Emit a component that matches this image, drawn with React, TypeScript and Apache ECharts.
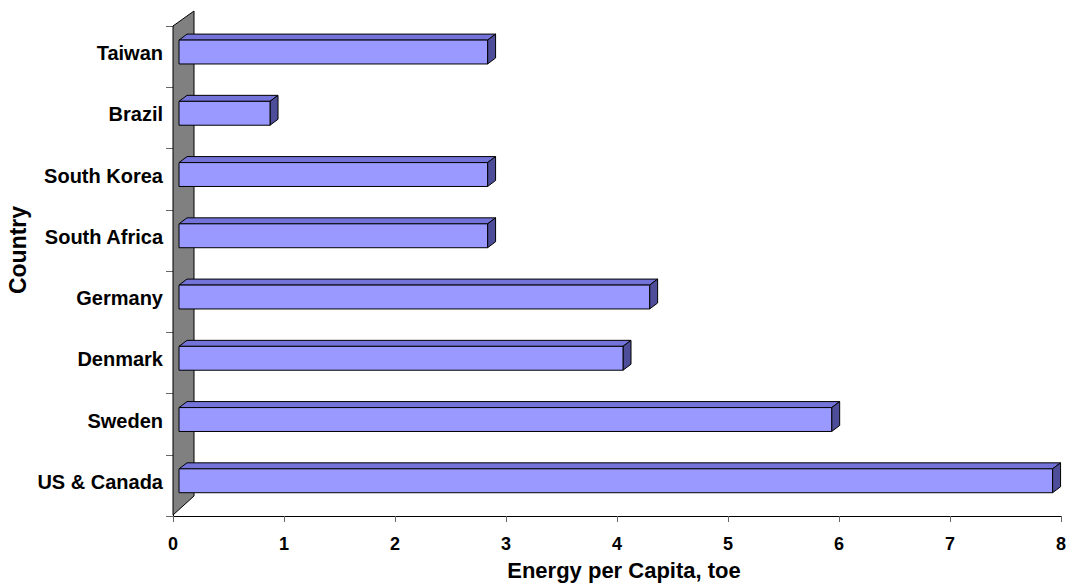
import React, { useEffect, useRef } from "react";
import * as echarts from "echarts";

// Countries, listed from the bottom of the chart to the top
const categories = [
  "US & Canada",
  "Sweden",
  "Denmark",
  "Germany",
  "South Africa",
  "South Korea",
  "Brazil",
  "Taiwan",
];

// Energy use per capita, tonnes of oil equivalent
const energyPerCapita = [7.87, 5.88, 4.0, 4.24, 2.78, 2.78, 0.82, 2.78];

const xTickMin = 0;
const xTickMax = 8;
const xTickStep = 1;

const FONT = "'Liberation Sans', Arial, Helvetica, sans-serif";

const FRONT = "#9999FF";
const TOP = "#7373D9";
const SIDE = "#4D4D9A";
const WALL = "#808080";

export default function App() {
  const ref = useRef<HTMLDivElement>(null);

  useEffect(() => {
    if (!ref.current) return;
    const chart = echarts.init(ref.current, undefined, { renderer: "svg" });

    const barData = energyPerCapita.map((v, i) => [v, i]);

    // oblique depth of each bar and of the back wall
    const depthX = 8;
    const depthY = -6;

    const option: any = {
      animation: false,
      backgroundColor: "#ffffff",
      grid: {
        left: 173,
        right: 7,
        top: 26,
        bottom: 68,
        containLabel: false,
        outerBoundsMode: "none",
      },
      xAxis: {
        type: "value",
        min: xTickMin,
        max: xTickMax,
        interval: xTickStep,
        name: "Energy per Capita, toe",
        nameLocation: "middle",
        nameGap: 43,
        nameTextStyle: {
          fontFamily: FONT,
          fontWeight: "bold",
          fontSize: 22,
          color: "#000",
          padding: [0, 0, 0, 14],
        },
        axisLine: { show: true, lineStyle: { color: "#000", width: 1 } },
        axisTick: { show: true, length: 6, lineStyle: { color: "#666", width: 1 } },
        axisLabel: {
          margin: 19,
          fontFamily: FONT,
          fontWeight: "bold",
          fontSize: 18,
          color: "#000",
        },
        splitLine: { show: false },
      },
      yAxis: {
        type: "category",
        data: categories,
        axisLine: { show: true, lineStyle: { color: "#000", width: 1 } },
        axisTick: { show: true, length: 7, lineStyle: { color: "#666", width: 1 } },
        axisLabel: {
          margin: 10,
          fontFamily: FONT,
          fontWeight: "bold",
          fontSize: 20,
          color: "#000",
          // lift the labels slightly so they sit level with the bar fronts
          verticalAlign: "bottom",
          lineHeight: 7,
        },
        splitLine: { show: false },
      },
      graphic: [
        {
          type: "text",
          x: 18,
          y: 250,
          rotation: Math.PI / 2,
          style: {
            text: "Country",
            fontFamily: FONT,
            fontWeight: "bold",
            fontSize: 23,
            fill: "#000",
            align: "center",
            verticalAlign: "middle",
          },
        },
      ],
      series: [
        {
          // gray back wall standing behind the category axis
          type: "custom",
          data: [[0, 0]],
          encode: { x: 0, y: 1 },
          z: 1,
          silent: true,
          renderItem: (params: any) => {
            const cs = params.coordSys;
            const x0 = cs.x;
            const x1 = cs.x + 21;
            const top = cs.y;
            const bottom = cs.y + cs.height - 1;
            return {
              type: "polygon",
              shape: {
                points: [
                  [x0, bottom],
                  [x0, top],
                  [x1, top - 15],
                  [x1, bottom - 19],
                ],
              },
              style: { fill: WALL, stroke: "#000", lineWidth: 1 },
            };
          },
        },
        {
          // 3D bars: front face, top face and right side face
          type: "custom",
          data: barData,
          encode: { x: 0, y: 1 },
          z: 2,
          renderItem: (params: any, api: any) => {
            const v = api.value(0);
            const c = api.value(1);
            const origin = api.coord([0, c]);
            const end = api.coord([v, c]);
            const band = api.size([0, 1])[1];
            const h = band * 0.39;
            const cy = origin[1] - band * 0.075;
            const shift = 6;
            const xl = origin[0] + shift;
            const xr = end[0] + shift;
            const yt = cy - h / 2;
            const yb = cy + h / 2;
            const line = { stroke: "#000", lineWidth: 1, lineJoin: "round" };
            return {
              type: "group",
              children: [
                {
                  type: "polygon",
                  shape: {
                    points: [
                      [xl, yt],
                      [xl + depthX, yt + depthY],
                      [xr + depthX, yt + depthY],
                      [xr, yt],
                    ],
                  },
                  style: { fill: TOP, ...line },
                },
                {
                  type: "polygon",
                  shape: {
                    points: [
                      [xr, yt],
                      [xr + depthX, yt + depthY],
                      [xr + depthX, yb + depthY],
                      [xr, yb],
                    ],
                  },
                  style: { fill: SIDE, ...line },
                },
                {
                  type: "rect",
                  shape: { x: xl, y: yt, width: xr - xl, height: h },
                  style: { fill: FRONT, ...line },
                },
              ],
            };
          },
        },
      ],
    };

    chart.setOption(option);
    return () => chart.dispose();
  }, []);

  return (
    <div
      ref={ref}
      style={{
        position: "fixed",
        left: 0,
        top: 0,
        width: 1068,
        height: 584,
        background: "#fff",
      }}
    />
  );
}
